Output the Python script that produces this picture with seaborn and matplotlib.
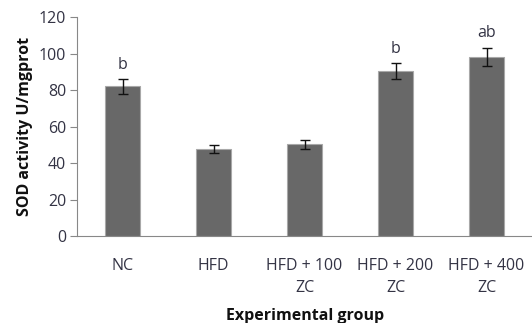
import pandas as pd
import matplotlib.pyplot as plt
import seaborn as sns

# values
groups = ['NC', 'HFD', 'HFD + 100\nZC', 'HFD + 200\nZC', 'HFD + 400\nZC']
sod = [82, 47.6, 50.3, 90.5, 98.3]
sem = [4.0, 2.3, 2.4, 4.4, 5.0]
letters = ['b', '', '', 'b', 'ab']

df = pd.DataFrame({'group': groups, 'sod': sod, 'sem': sem})

sns.set_style('white')
plt.rcParams['font.family'] = ['Open Sans', 'DejaVu Sans']

fig = plt.figure(figsize=(5.32, 3.23), dpi=100)
ax = fig.add_axes([0.145, 0.269, 0.855, 0.678])

sns.barplot(data=df, x='group', y='sod', color='#686868', saturation=1,
            width=0.39, edgecolor='#a8a8a8', linewidth=0.8, errorbar=None, ax=ax)

# error bars
ax.errorbar(range(len(groups)), df['sod'], yerr=df['sem'], fmt='none',
            ecolor='#111111', elinewidth=1, capsize=3.5, capthick=1)

# significance letters
for i, (v, e, t) in enumerate(zip(sod, sem, letters)):
    if t:
        ax.text(i, v + e + 3.5, t, ha='center', va='bottom', fontsize=11.5, color='#333344')

ax.set_ylim(0, 120)
ax.set_xlim(-0.5, 4.5)
ax.set_yticks(range(0, 121, 20))
ax.tick_params(axis='y', length=5, width=0.8, color='#888888', labelsize=11.5,
               labelcolor='#333344', pad=3, left=True)
ax.tick_params(axis='x', length=0, labelsize=11.5, labelcolor='#333344', pad=16)
for lbl in ax.get_xticklabels():
    lbl.set_linespacing(1.45)

for s in ['top', 'right']:
    ax.spines[s].set_visible(False)
for s in ['left', 'bottom']:
    ax.spines[s].set_color('#888888')
    ax.spines[s].set_linewidth(0.8)

ax.set_xlabel('Experimental group', fontsize=11.5, fontweight='bold', color='#111111', labelpad=9)
ax.set_ylabel('SOD activity U/mgprot', fontsize=11.5, fontweight='bold', color='#111111', labelpad=4)

fig.savefig('out.png', dpi=100)
